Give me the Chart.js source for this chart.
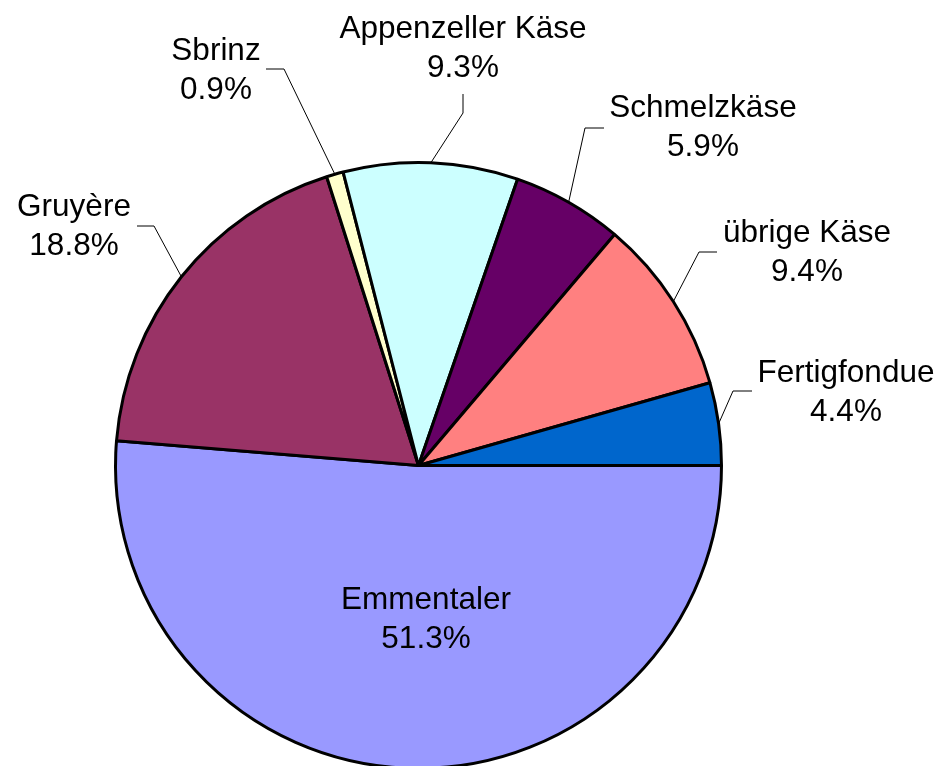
<!DOCTYPE html>
<html>
<head>
<meta charset="utf-8">
<script src="https://cdn.jsdelivr.net/npm/chart.js@4"></script>
<style>
  html, body { margin: 0; padding: 0; background: #fff; overflow: hidden; }
  #wrap { width: 943px; height: 772px; position: relative; }
</style>
</head>
<body>
<div id="wrap"><canvas id="pie"></canvas></div>
<script>
// Käse-Anteile (%), im Uhrzeigersinn ab 3 Uhr
const sorten = ['Emmentaler', 'Gruyère', 'Sbrinz', 'Appenzeller Käse', 'Schmelzkäse', 'übrige Käse', 'Fertigfondue'];
const anteile = [51.3, 18.8, 0.9, 9.3, 5.9, 9.4, 4.4];
const farben = ['#9999FF', '#993366', '#FFFFCC', '#CCFFFF', '#660066', '#FF8080', '#0066CC'];

// Beschriftung: Mittelpunkt x, Grundlinie 1. Zeile, Knick + Ende der Führungslinie (null = im Segment)
const labelPos = [
    { x: 426, y: 609, elbow: null, end: null },
    { x: 74,  y: 216, elbow: [154, 226], end: [137, 226] },
    { x: 216, y: 60,  elbow: [284, 69],  end: [266, 69] },
    { x: 463, y: 38,  elbow: [463, 113], end: [463, 94] },
    { x: 703, y: 117, elbow: [585, 128], end: [604, 128] },
    { x: 807, y: 242, elbow: [699, 252], end: [717, 252] },
    { x: 846, y: 382, elbow: [733, 391], end: [752, 391] }
];

const pieLabels = {
    id: 'pieLabels',
    afterDraw(chart) {
        const ctx = chart.ctx;
        const arcs = chart.getDatasetMeta(0).data;
        ctx.save();
        arcs.forEach((arc, i) => {
            const p = labelPos[i];
            const { x, y, startAngle, endAngle, outerRadius } = arc.getProps(['x', 'y', 'startAngle', 'endAngle', 'outerRadius'], true);
            if (p.elbow) {
                const mid = (startAngle + endAngle) / 2;
                ctx.beginPath();
                ctx.moveTo(x + Math.cos(mid) * outerRadius, y + Math.sin(mid) * outerRadius);
                ctx.lineTo(p.elbow[0], p.elbow[1]);
                ctx.lineTo(p.end[0], p.end[1]);
                ctx.strokeStyle = '#000';
                ctx.lineWidth = 1;
                ctx.stroke();
            }
            ctx.fillStyle = '#000';
            ctx.font = '31.5px "Liberation Sans", Arial, sans-serif';
            ctx.textAlign = 'center';
            ctx.textBaseline = 'alphabetic';
            ctx.fillText(sorten[i], p.x, p.y);
            ctx.fillText(anteile[i].toFixed(1) + '%', p.x, p.y + 39);
        });
        ctx.restore();
    }
};

new Chart(document.getElementById('pie'), {
    type: 'pie',
    data: {
        labels: sorten,
        datasets: [{
            data: anteile,
            backgroundColor: farben,
            borderColor: '#000',
            borderWidth: 3
        }]
    },
    options: {
        responsive: true,
        maintainAspectRatio: false,
        animation: false,
        rotation: 90,
        layout: { padding: { left: 114, right: 220, top: 161, bottom: 2 } },
        plugins: {
            legend: { display: false },
            tooltip: { enabled: false }
        }
    },
    plugins: [pieLabels]
});
</script>
</body>
</html>
